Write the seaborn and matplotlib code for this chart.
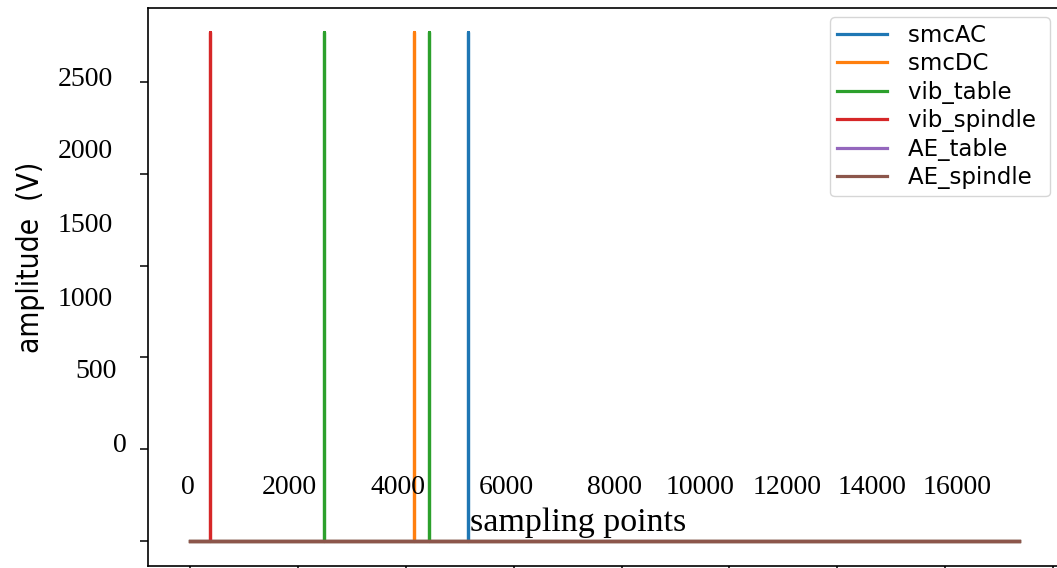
import numpy as np
import pandas as pd
import matplotlib
matplotlib.use("Agg")
import matplotlib.pyplot as plt
import seaborn as sns

# ---------------- data ----------------
series_names = ["smcAC", "smcDC", "vib_table", "vib_spindle", "AE_table", "AE_spindle"]
n_samples = 15366                      # length of every signal
spike_height = 2770                    # peak amplitude of the spikes
spike_positions = {                    # sample index of each spike
    "smcAC": [5153],
    "smcDC": [4152],
    "vib_table": [2490, 4430],
    "vib_spindle": [371],
    "AE_table": [],
    "AE_spindle": [],
}
y_label_texts = ["0", "500", "1000", "1500", "2000", "2500"]
x_label_texts = ["0", "2000", "4000", "6000", "8000", "10000", "12000", "14000", "16000"]
x_ticks = [0, 2000, 4000, 6000, 8000, 10000, 12000, 14000, 16000]
y_ticks = [0, 500, 1000, 1500, 2000, 2500]

# ---------------- figure ----------------
W, H = 1057, 568
fig = plt.figure(figsize=(W / 100, H / 100), dpi=100)
ax_left, ax_top, ax_bottom, ax_right = 148, 8, 566, 1062
ax = fig.add_axes([ax_left / W, 1 - ax_bottom / H,
                   (ax_right - ax_left) / W, (ax_bottom - ax_top) / H])

colors = sns.color_palette("tab10", 6)

for name, col in zip(series_names, colors):
    xs, ys = [0], [0]
    for p in spike_positions[name]:
        xs += [p, p, p]
        ys += [0, spike_height, 0]
    xs.append(n_samples - 1)
    ys.append(0)
    df = pd.DataFrame({"x": xs, "y": ys})
    sns.lineplot(data=df, x="x", y="y", estimator=None, sort=False,
                 color=col, linewidth=2.3, label=name, ax=ax)

ax.set_xlim(-778, 16163)
ax.set_ylim(-136, 2903)
ax.set_xticks(x_ticks)
ax.set_yticks(y_ticks)
ax.tick_params(labelleft=False, labelbottom=False, length=6, width=1.1, color="black")
for s in ax.spines.values():
    s.set_linewidth(1.2)
    s.set_color("black")

# axis labels
ax.set_xlabel("sampling points", family="Liberation Serif", fontsize=24.5,
              va="center", ha="center")
ax.xaxis.set_label_coords(578 / W, 1 - 523 / H, transform=fig.transFigure)
ax.set_ylabel("amplitude  (V)", family="DejaVu Sans", fontstretch="condensed",
              fontsize=21.5, va="center", ha="center")
ax.yaxis.set_label_coords(31 / W, 1 - 257 / H, transform=fig.transFigure)

# overlaid tick-label texts
y_lab_right = [127, 117, 113, 113, 113, 113]
y_lab_center = [445, 371, 299, 226, 152, 80]
for t, xr, yc in zip(y_label_texts, y_lab_right, y_lab_center):
    fig.text(xr / W, 1 - yc / H, t, ha="right", va="center",
             family="Liberation Serif", fontsize=20)
x_lab_center = [188, 289, 398, 506, 615, 700, 787, 872, 957]
for t, xc in zip(x_label_texts, x_lab_center):
    fig.text(xc / W, 1 - 487 / H, t, ha="center", va="center",
             family="Liberation Serif", fontsize=20)

leg = ax.legend(loc="upper right", bbox_to_anchor=(1050 / W, 1 - 17 / H),
                bbox_transform=fig.transFigure, borderaxespad=0,
                prop={"family": "DejaVu Sans", "size": 16.5},
                handlelength=2.2, handletextpad=0.9, labelspacing=0.24,
                borderpad=0.3, frameon=True)
# widen the right-hand padding a little, like the reference box
for txt in leg.get_texts():
    txt.set_text(txt.get_text() + " ")

fig.savefig("out.png", dpi=100)
